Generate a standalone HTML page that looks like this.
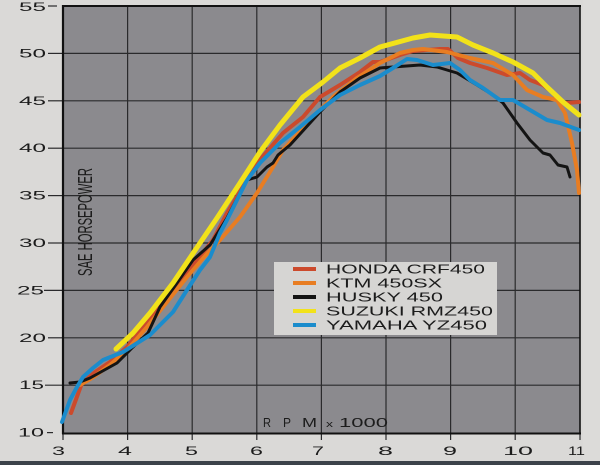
<!DOCTYPE html>
<html><head><meta charset="utf-8"><style>
html,body{margin:0;padding:0;background:#dad9d7;}
svg{display:block;}
text{font-family:"Liberation Sans",sans-serif;fill:#1c1c1c;}
</style></head><body>
<svg width="600" height="465" viewBox="0 0 600 465" xmlns="http://www.w3.org/2000/svg">
<rect x="0" y="0" width="600" height="465" fill="#dad9d7"/>
<rect x="583" y="0" width="17" height="462" fill="#dcdbd9"/>
<rect x="0" y="461" width="600" height="4" fill="#3c424a"/>
<!-- plot bg -->
<rect x="63" y="6" width="517" height="427" fill="#8b8a8e"/>
<!-- grid -->
<g stroke="#2a2a2c" stroke-width="1.2">
<line x1="127.6" y1="6" x2="127.6" y2="433"/>
<line x1="192.2" y1="6" x2="192.2" y2="433"/>
<line x1="256.8" y1="6" x2="256.8" y2="433"/>
<line x1="321.4" y1="6" x2="321.4" y2="433"/>
<line x1="386" y1="6" x2="386" y2="433"/>
<line x1="450.6" y1="6" x2="450.6" y2="433"/>
<line x1="515.2" y1="6" x2="515.2" y2="433"/>
<line x1="63" y1="53.4" x2="580" y2="53.4"/>
<line x1="63" y1="100.8" x2="580" y2="100.8"/>
<line x1="63" y1="148.2" x2="580" y2="148.2"/>
<line x1="63" y1="195.6" x2="580" y2="195.6"/>
<line x1="63" y1="243" x2="580" y2="243"/>
<line x1="63" y1="290.4" x2="580" y2="290.4"/>
<line x1="63" y1="337.8" x2="580" y2="337.8"/>
<line x1="63" y1="385.2" x2="580" y2="385.2"/>
</g>
<!-- y ticks -->
<g stroke="#2a2a2c" stroke-width="1.2">
<line x1="48" y1="6" x2="57" y2="6"/>
<line x1="48" y1="53.4" x2="63" y2="53.4"/>
<line x1="48" y1="100.8" x2="63" y2="100.8"/>
<line x1="48" y1="148.2" x2="63" y2="148.2"/>
<line x1="48" y1="195.6" x2="63" y2="195.6"/>
<line x1="48" y1="243" x2="63" y2="243"/>
<line x1="44" y1="290.4" x2="63" y2="290.4"/>
<line x1="48" y1="337.8" x2="63" y2="337.8"/>
<line x1="45" y1="385.2" x2="63" y2="385.2"/>
<line x1="47" y1="432.6" x2="53" y2="432.6"/>
<line x1="63" y1="434" x2="63" y2="440"/>
<line x1="127.6" y1="434" x2="127.6" y2="440"/>
<line x1="192.2" y1="434" x2="192.2" y2="440"/>
<line x1="256.8" y1="434" x2="256.8" y2="440"/>
<line x1="321.4" y1="434" x2="321.4" y2="440"/>
<line x1="386" y1="434" x2="386" y2="440"/>
<line x1="450.6" y1="434" x2="450.6" y2="440"/>
<line x1="515.2" y1="434" x2="515.2" y2="440"/>
<line x1="580" y1="434" x2="580" y2="440"/>
</g>
<!-- border -->
<g stroke="#111" fill="none">
<line x1="63" y1="5" x2="63" y2="434" stroke-width="2.2"/>
<line x1="62" y1="6" x2="581" y2="6" stroke-width="2"/>
<line x1="62" y1="433.5" x2="581" y2="433.5" stroke-width="2"/>
<line x1="580" y1="5" x2="580" y2="434" stroke-width="1.6"/>
</g>
<!-- y labels -->
<g font-size="11.5">
<text x="19" y="11" textLength="27" lengthAdjust="spacingAndGlyphs">55</text>
<text x="19" y="57.4" textLength="27" lengthAdjust="spacingAndGlyphs">50</text>
<text x="19" y="104.8" textLength="27" lengthAdjust="spacingAndGlyphs">45</text>
<text x="19" y="152.2" textLength="27" lengthAdjust="spacingAndGlyphs">40</text>
<text x="19" y="199.6" textLength="27" lengthAdjust="spacingAndGlyphs">35</text>
<text x="19" y="247" textLength="27" lengthAdjust="spacingAndGlyphs">30</text>
<text x="17" y="294.4" textLength="27" lengthAdjust="spacingAndGlyphs">25</text>
<text x="19" y="341.8" textLength="27" lengthAdjust="spacingAndGlyphs">20</text>
<text x="19" y="389.2" textLength="25" lengthAdjust="spacingAndGlyphs">15</text>
<text x="18" y="436.6" textLength="26" lengthAdjust="spacingAndGlyphs">10</text>
</g>
<!-- x labels -->
<g font-size="12">
<text x="52" y="455" textLength="13" lengthAdjust="spacingAndGlyphs">3</text>
<text x="118" y="455" textLength="14" lengthAdjust="spacingAndGlyphs">4</text>
<text x="185" y="455" textLength="13" lengthAdjust="spacingAndGlyphs">5</text>
<text x="250" y="455" textLength="13" lengthAdjust="spacingAndGlyphs">6</text>
<text x="312" y="455" textLength="12" lengthAdjust="spacingAndGlyphs">7</text>
<text x="378" y="455" textLength="15" lengthAdjust="spacingAndGlyphs">8</text>
<text x="443" y="455" textLength="14" lengthAdjust="spacingAndGlyphs">9</text>
<text x="503" y="455" textLength="30" lengthAdjust="spacingAndGlyphs">10</text>
<text x="568" y="455" textLength="17" lengthAdjust="spacingAndGlyphs">11</text>
</g>
<!-- axis titles -->
<g font-size="12.5">
<text x="263" y="427" textLength="8" lengthAdjust="spacingAndGlyphs">R</text>
<text x="283" y="427" textLength="8" lengthAdjust="spacingAndGlyphs">P</text>
<text x="302" y="427" textLength="15" lengthAdjust="spacingAndGlyphs">M</text>
<text x="326" y="427" font-size="9" textLength="7" lengthAdjust="spacingAndGlyphs">x</text>
<text x="339" y="427" textLength="49" lengthAdjust="spacingAndGlyphs">1000</text>
</g>
<text transform="translate(92,276) rotate(-90)" font-size="20" textLength="108" lengthAdjust="spacingAndGlyphs">SAE HORSEPOWER</text>
<!-- curves -->
<g fill="none" stroke-linejoin="round" stroke-linecap="round">
<polyline stroke="#cc4a2c" stroke-width="4" points="71,413 82,383 95,372 110,362 127,347 147,323 167,298 187,273 213,240 227,213 257,163 283,133 303,117 320,97 340,85 360,72 373,62 380,62 400,55 413,51 440,49 448,49 458,58 470,63 487,68 507,75 520,73 530,80 543,85 553,93 560,102 567,103 579,102"/>
<polyline stroke="#e87d22" stroke-width="4" points="80,385 92,378 110,365 127,350 147,327 167,302 187,277 205,256 220,240 240,217 257,193 273,167 283,150 297,135 313,117 333,97 357,78 380,63 400,53 413,50 423,49 447,52 470,58 493,63 513,75 527,90 543,97 557,100 565,113 572,143 577,170 579,193"/>
<polyline stroke="#141414" stroke-width="3" points="70,383 80,382 90,378 117,363 133,347 148,333 160,307 177,283 193,260 210,245 227,218 247,180 257,177 267,167 273,163 278,155 290,145 320,112 340,92 360,78 380,68 393,67 420,65 437,67 457,73 477,85 493,95 503,103 517,123 530,140 543,153 550,155 558,165 567,167 570,177"/>
<polyline stroke="#1b8ccc" stroke-width="4" points="62,422 70,400 77,387 83,377 93,368 103,360 123,352 150,335 173,312 187,290 200,270 210,257 220,233 227,220 247,180 260,163 280,143 300,127 320,110 340,95 360,85 380,76 393,68 407,59 417,60 433,65 450,63 460,70 470,80 483,88 500,100 513,100 530,110 547,120 560,123 579,130"/>
<polyline stroke="#f2e21a" stroke-width="5" points="116,349 133,333 150,313 173,283 200,243 217,218 240,183 260,152 280,125 303,97 323,82 340,68 360,58 380,47 413,38 430,35 457,37 473,45 493,53 513,62 533,73 547,87 563,102 579,115"/>
</g>
<!-- legend -->
<rect x="274" y="262" width="223" height="73" fill="#d6d5d3"/>
<g>
<rect x="293" y="267" width="23" height="4" fill="#cc4a2c"/>
<rect x="293" y="281" width="23" height="4" fill="#e87d22"/>
<rect x="293" y="295" width="23" height="4" fill="#141414"/>
<rect x="293" y="309" width="23" height="4" fill="#f2e21a"/>
<rect x="293" y="323" width="23" height="4" fill="#1b8ccc"/>
</g>
<g font-size="12.5">
<text x="326" y="273.5" textLength="159" lengthAdjust="spacingAndGlyphs">HONDA CRF450</text>
<text x="326" y="287.5" textLength="116" lengthAdjust="spacingAndGlyphs">KTM 450SX</text>
<text x="326" y="301.5" textLength="117" lengthAdjust="spacingAndGlyphs">HUSKY 450</text>
<text x="326" y="315.5" textLength="167" lengthAdjust="spacingAndGlyphs">SUZUKI RMZ450</text>
<text x="326" y="329.5" textLength="161" lengthAdjust="spacingAndGlyphs">YAMAHA YZ450</text>
</g>
</svg>
</body></html>
